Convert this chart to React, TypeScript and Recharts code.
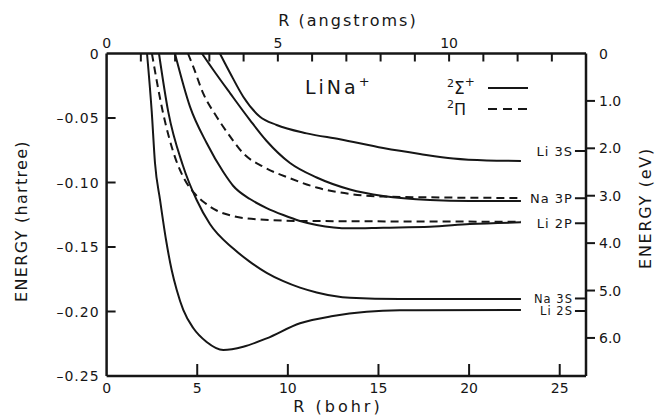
import React from "react";
import { LineChart, Line, XAxis, YAxis, ReferenceLine, Legend } from "recharts";

const BOHR_PER_ANGSTROM = 1.8897;
const EV_PER_HARTREE = 27.2114;
const R_MAX = 26.45;

// potential curves, [R (bohr), E (hartree)]
const li2sSigma = [
  [2.23, 0], [2.49, -0.0451], [2.67, -0.0849], [2.95, -0.1136], [3.28, -0.1446],
  [3.59, -0.1678], [3.87, -0.1833], [4.23, -0.1988], [4.78, -0.2128], [5.52, -0.2236],
  [6.44, -0.2298], [7.54, -0.2273], [8.83, -0.2208], [10.67, -0.2091], [12.49, -0.2035],
  [14.35, -0.2002], [16.18, -0.1991], [22.86, -0.1988],
];
const na3sSigma = [
  [2.89, 0], [3.4, -0.0451], [4.2, -0.0864], [4.97, -0.1136], [5.7, -0.1322],
  [6.99, -0.1512], [7.91, -0.1615], [8.83, -0.17], [9.75, -0.1765], [10.67, -0.1815],
  [11.59, -0.1852], [13.43, -0.1893], [16.18, -0.1903], [22.86, -0.1903],
];
const li2pPi = [
  [2.5, 0], [3.1, -0.0451], [3.83, -0.0826], [4.32, -0.0981], [4.88, -0.1089],
  [5.43, -0.1159], [6.07, -0.1217], [6.99, -0.126], [8.46, -0.1287], [10.67, -0.1298],
  [22.86, -0.1304],
];
const li2pSigma = [
  [3.77, 0], [4.6, -0.0412], [5.52, -0.0694], [6.44, -0.0919], [6.99, -0.1027],
  [7.91, -0.1128], [8.83, -0.1198], [9.75, -0.1252], [10.67, -0.1298], [11.59, -0.1329],
  [13.43, -0.1355], [15.26, -0.135], [17.84, -0.1343], [20.04, -0.1322], [22.86, -0.1309],
];
const na3pPi = [
  [4.49, 0], [4.78, -0.0102], [5.33, -0.0309], [6.07, -0.049], [6.82, -0.0645],
  [7.54, -0.0774], [8.64, -0.0878], [10.12, -0.0967], [11.59, -0.1039], [13.43, -0.1089],
  [15.26, -0.1109], [17.84, -0.1115], [22.86, -0.112],
];
const na3pSigma = [
  [5.26, 0], [5.89, -0.0128], [6.82, -0.0309], [7.91, -0.0516], [8.83, -0.0678],
  [10.12, -0.0849], [11.59, -0.0961], [13.43, -0.1054], [15.26, -0.1105], [17.84, -0.1136],
  [20.04, -0.1143], [22.86, -0.1143],
];
const li3sSigma = [
  [6.25, 0], [6.82, -0.0153], [7.54, -0.0335], [8.46, -0.049], [9.38, -0.0554],
  [11.04, -0.0619], [12.87, -0.0665], [15.26, -0.0733], [17.29, -0.0779], [19.12, -0.0814],
  [20.97, -0.0829], [22.86, -0.0833],
];

// asymptote labels on the right
const levelNames = ["Li 3S", "Na 3P", "Li 2P", "Na 3S", "Li 2S"];
const levelEnergies = [-0.0756, -0.1122, -0.1316, -0.1899, -0.1996];

const bohrTicks = [0, 5, 10, 15, 20, 25];
const angstromTicks = [0, 1, 2, 3, 4, 5, 6, 7, 8, 9, 10, 11, 12, 13];
const hartreeTicks = [-0.25, -0.2, -0.15, -0.1, -0.05, 0];
const evTicks = [0, 1, 2, 3, 4, 5, 6];

const curves = [
  { name: "li2sSigma", pts: li2sSigma, dashed: false },
  { name: "na3sSigma", pts: na3sSigma, dashed: false },
  { name: "li2pPi", pts: li2pPi, dashed: true },
  { name: "li2pSigma", pts: li2pSigma, dashed: false },
  { name: "na3pPi", pts: na3pPi, dashed: true },
  { name: "na3pSigma", pts: na3pSigma, dashed: false },
  { name: "li3sSigma", pts: li3sSigma, dashed: false },
];

const INK = "#161616";
const FONT = "DejaVu Sans";

// custom ticks: marks point inward on left/top/bottom, outward on the right
function BottomTick({ x, y, payload }: any) {
  return (
    <g>
      {payload.value > 0 && <line x1={x} y1={y} x2={x} y2={y - 12} stroke={INK} strokeWidth={2} />}
      <text x={x} y={y + 17} textAnchor="middle" fontFamily={FONT} fontSize={14} fill={INK}>
        {payload.value}
      </text>
    </g>
  );
}

function TopTick({ x, y, payload }: any) {
  const a = Math.round(payload.value / BOHR_PER_ANGSTROM);
  return (
    <g>
      {a > 0 && <line x1={x} y1={y} x2={x} y2={y + 8} stroke={INK} strokeWidth={2} />}
      {a % 5 === 0 && (
        <text x={x} y={y - 6} textAnchor="middle" fontFamily={FONT} fontSize={14} fill={INK}>
          {a}
        </text>
      )}
    </g>
  );
}

function LeftTick({ x, y, payload }: any) {
  const v = payload.value;
  const label = v === 0 ? "0" : v.toFixed(2).replace("-", "\u2013");
  return (
    <g>
      {v !== 0 && v !== -0.25 && <line x1={x} y1={y} x2={x + 9} y2={y} stroke={INK} strokeWidth={2} />}
      <text x={x - 7} y={y + 5} textAnchor="end" fontFamily={FONT} fontSize={14} letterSpacing={1} fill={INK}>
        {label}
      </text>
    </g>
  );
}

function RightTick({ x, y, payload }: any) {
  const ev = Math.round(-payload.value * EV_PER_HARTREE);
  return (
    <g>
      {ev !== 0 && <line x1={x} y1={y} x2={x + 9} y2={y} stroke={INK} strokeWidth={2} />}
      <text x={x + 13} y={y + 5} textAnchor="start" fontFamily={FONT} fontSize={14} fill={INK}>
        {ev === 0 ? "0" : ev.toFixed(1)}
      </text>
    </g>
  );
}

function LegendBox() {
  return (
    <svg width={110} height={48} style={{ overflow: "visible", display: "block" }}>
      <text x={0} y={20} fontFamily={FONT} fill={INK}>
        <tspan fontSize={11} dy={-7}>2</tspan>
        <tspan fontSize={17} dy={7}>Σ</tspan>
        <tspan fontSize={12} dy={-8}>+</tspan>
      </text>
      <line x1={41} y1={14} x2={81} y2={14} stroke={INK} strokeWidth={2} />
      <text x={0} y={41} fontFamily={FONT} fill={INK}>
        <tspan fontSize={11} dy={-7}>2</tspan>
        <tspan fontSize={16} dy={7}>Π</tspan>
      </text>
      <line x1={41} y1={35} x2={81} y2={35} stroke={INK} strokeWidth={2} strokeDasharray="9 6" />
    </svg>
  );
}

const axisCommon = {
  allowDataOverflow: true,
  interval: 0 as const,
  tickSize: 0,
  tickMargin: 0,
  tickLine: false,
  stroke: INK,
  axisLine: { stroke: INK, strokeWidth: 2.5 },
};

export default function App() {
  return (
    <div style={{ position: "absolute", left: 0, top: 0, width: 656, height: 417, background: "#fff" }}>
      <LineChart width={656} height={417} margin={{ top: 0, right: 0, bottom: 0, left: 0 }}>
        <XAxis
          {...axisCommon}
          xAxisId="bottom"
          type="number"
          dataKey="r"
          orientation="bottom"
          domain={[0, R_MAX]}
          ticks={bohrTicks}
          height={41}
          tick={<BottomTick />}
          label={{
            content: () => (
              <text x={338} y={412} textAnchor="middle" fontFamily={FONT} fontSize={16} letterSpacing={3} fill={INK}>
                R (bohr)
              </text>
            ),
          }}
        />
        <XAxis
          {...axisCommon}
          xAxisId="top"
          type="number"
          dataKey="r"
          orientation="top"
          domain={[0, R_MAX]}
          ticks={angstromTicks.map((a) => a * BOHR_PER_ANGSTROM)}
          height={53.5}
          tick={<TopTick />}
          label={{
            content: () => (
              <text x={348} y={26} textAnchor="middle" fontFamily={FONT} fontSize={16} letterSpacing={2} fill={INK}>
                R (angstroms)
              </text>
            ),
          }}
        />
        <YAxis
          {...axisCommon}
          yAxisId="left"
          type="number"
          orientation="left"
          domain={[-0.25, 0]}
          ticks={hartreeTicks}
          width={106.6}
          tick={<LeftTick />}
          label={{
            content: () => (
              <text
                x={27}
                y={221}
                transform="rotate(-90 27 221)"
                textAnchor="middle"
                fontFamily={FONT}
                fontSize={16}
                letterSpacing={1.3}
                fill={INK}
              >
                ENERGY (hartree)
              </text>
            ),
          }}
        />
        <YAxis
          {...axisCommon}
          yAxisId="right"
          type="number"
          orientation="right"
          domain={[-0.25, 0]}
          ticks={evTicks.map((v) => -v / EV_PER_HARTREE)}
          width={70}
          tick={<RightTick />}
          label={{
            content: () => (
              <text
                x={651}
                y={208}
                transform="rotate(-90 651 208)"
                textAnchor="middle"
                fontFamily={FONT}
                fontSize={16}
                letterSpacing={1.7}
                fill={INK}
              >
                ENERGY (eV)
              </text>
            ),
          }}
        />

        {curves.map((c) => (
          <Line
            key={c.name}
            xAxisId="bottom"
            yAxisId="left"
            data={c.pts.map(([r, e]) => ({ r, e }))}
            dataKey="e"
            type="monotone"
            stroke={INK}
            strokeWidth={2}
            strokeDasharray={c.dashed ? "8 5" : undefined}
            dot={false}
            activeDot={false}
            isAnimationActive={false}
            legendType="none"
          />
        ))}

        {levelNames.map((name, i) => (
          <ReferenceLine
            key={name}
            xAxisId="bottom"
            yAxisId="left"
            ifOverflow="visible"
            stroke={INK}
            strokeWidth={2}
            segment={[
              { x: 25.84, y: levelEnergies[i] },
              { x: R_MAX, y: levelEnergies[i] },
            ]}
            label={{
              value: name,
              position: "left",
              offset: 2,
              fontFamily: FONT,
              fontSize: i >= 3 ? 11.5 : 13,
              letterSpacing: 1,
              fill: INK,
            }}
          />
        ))}

        <text x={305} y={94} fontFamily={FONT} fontSize={19} letterSpacing={3} fill={INK}>
          LiNa
          <tspan fontSize={13} dy={-8}>+</tspan>
        </text>

        <Legend
          layout="vertical"
          align="center"
          verticalAlign="middle"
          content={() => <LegendBox />}
          wrapperStyle={{ position: "absolute", left: 447, top: 74, width: 110 }}
        />
      </LineChart>
    </div>
  );
}
